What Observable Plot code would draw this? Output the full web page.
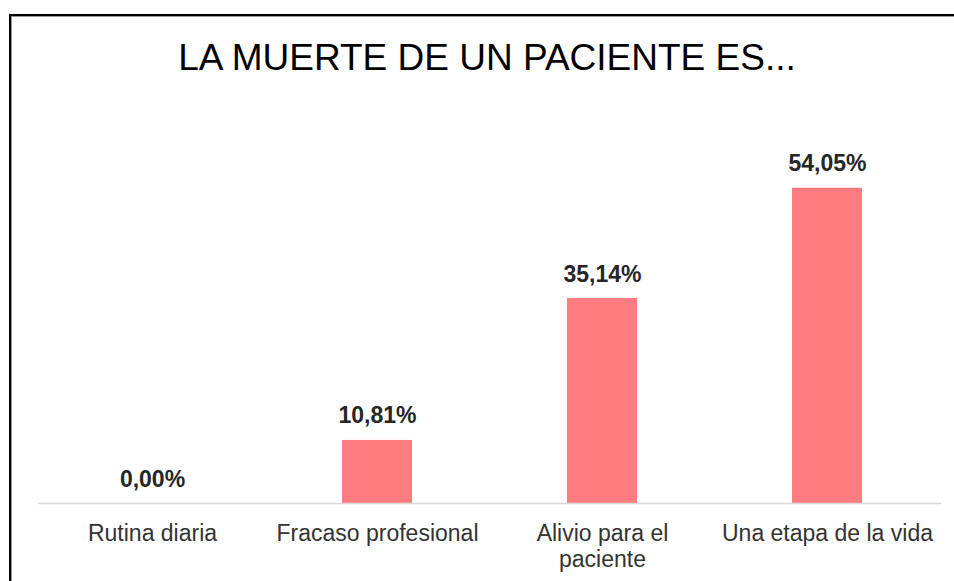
<!DOCTYPE html>
<html>
<head>
<meta charset="utf-8">
<script src="https://cdn.jsdelivr.net/npm/d3@7"></script>
<script src="https://cdn.jsdelivr.net/npm/@observablehq/plot@0.6"></script>
<style>
  html, body { margin: 0; padding: 0; background: #fff; overflow: hidden; width: 954px; height: 581px; }
  #frame { position: absolute; left: 9px; top: 14px; width: 1000px; height: 700px;
           border-left: 2px solid #000; border-top: 2px solid #000;
           box-shadow: inset 1px 1px 0 #999; box-sizing: border-box; }
  #title { position: absolute; left: 0; top: 38.7px; width: 954px; padding-left: 20px; box-sizing: border-box;
           text-align: center; font-family: "Liberation Sans", Arial, sans-serif; font-size: 37px;
           line-height: 37px; color: #000; white-space: nowrap; }
  #chart { position: absolute; left: 0; top: 0; }
</style>
</head>
<body>
<div id="frame"></div>
<div id="title">LA MUERTE DE UN PACIENTE ES...</div>
<div id="chart"></div>
<script>
const categories = ["Rutina diaria", "Fracaso profesional", "Alivio para el paciente", "Una etapa de la vida"];
const tickLabels = ["Rutina diaria", "Fracaso profesional", "Alivio para el\npaciente", "Una etapa de la vida"];
const values = [0.00, 10.81, 35.14, 54.05];
const valueLabels = ["0,00%", "10,81%", "35,14%", "54,05%"];

const data = categories.map((c, i) => ({category: c, value: values[i], label: valueLabels[i], tick: tickLabels[i]}));
const tickMap = new Map(categories.map((c, i) => [c, tickLabels[i]]));

const chart = Plot.plot({
  width: 954,
  height: 581,
  marginLeft: 38,
  marginRight: 13,
  marginTop: 153,
  marginBottom: 78,
  style: {background: "transparent", fontFamily: "'Liberation Sans', Arial, sans-serif", overflow: "visible"},
  x: {domain: categories, paddingInner: 0.688, paddingOuter: 0.344, axis: null},
  y: {domain: [0, 60], axis: null},
  marks: [
    Plot.barY(data, {x: "category", y: "value", fill: "#ff7c80"}),
    Plot.ruleY([0], {stroke: "#d9d9d9", strokeWidth: 1.5}),
    Plot.text(data, {x: "category", y: "value", text: "label", lineAnchor: "bottom", dy: -17,
      fontSize: 23, fontWeight: "bold", fill: "#262626"}),
    Plot.axisX({tickSize: 0, tickPadding: 19, fontSize: 23, lineHeight: 1.13, fill: "#333",
      tickFormat: d => tickMap.get(d), label: null, textOverflow: null})
  ]
});
document.getElementById("chart").appendChild(chart);
</script>
</body>
</html>
